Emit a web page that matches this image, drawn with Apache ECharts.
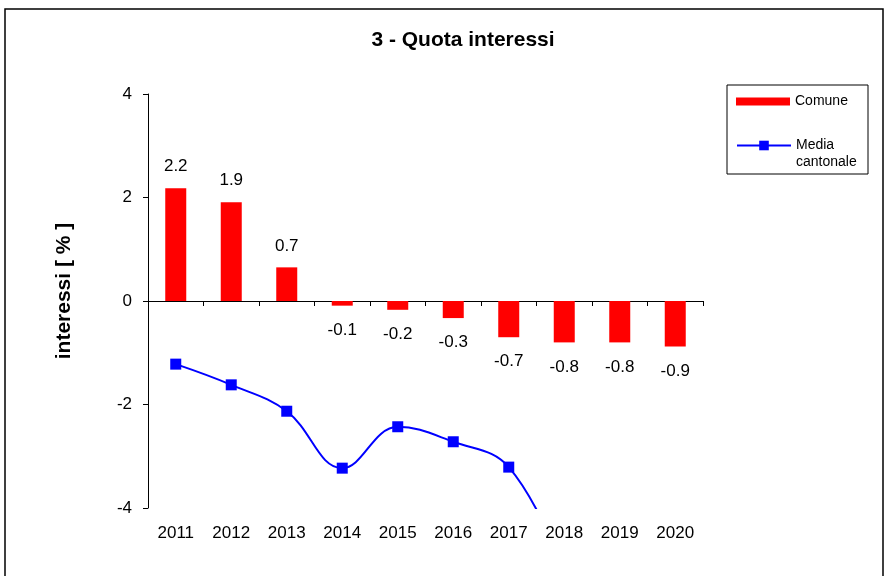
<!DOCTYPE html>
<html>
<head>
<meta charset="utf-8">
<script src="https://cdn.jsdelivr.net/npm/echarts@6/dist/echarts.min.js"></script>
<style>
  html, body { margin: 0; padding: 0; background: #fff; }
  #chart { width: 885px; height: 576px; }
</style>
</head>
<body>
<div id="chart"></div>
<script>
const anni = ["2011", "2012", "2013", "2014", "2015", "2016", "2017", "2018", "2019", "2020"];
const comune = [2.18, 1.91, 0.65, -0.09, -0.17, -0.33, -0.7, -0.8, -0.8, -0.88];
const mediaCantonale = [-1.22, -1.62, -2.13, -3.23, -2.43, -2.72, -3.21, -5.2, null, null];
const yTicks = [-4, -2, 0, 2, 4];

const chart = echarts.init(document.getElementById("chart"));
const font = "'Liberation Sans', Arial, sans-serif";

// etichette sopra/sotto le barre
const comuneData = comune.map(v => ({
  value: v,
  label: { distance: v >= 0 ? 13 : 16 }
}));

const option = {
  animation: false,
  textStyle: { fontFamily: font },
  title: {
    text: "3 - Quota interessi",
    left: 458,
    textAlign: "center",
    top: 25,
    textStyle: { fontFamily: font, fontSize: 21, fontWeight: "bold", color: "#000" }
  },
  graphic: [
    {
      type: "rect",
      shape: { x: 5, y: 9, width: 878, height: 620 },
      style: { fill: "none", stroke: "#000", lineWidth: 1.5 },
      z: -1
    },
    {
      type: "rect",
      shape: { x: 727, y: 85, width: 141, height: 89 },
      style: { fill: "none", stroke: "#000", lineWidth: 1 },
      z: -1
    }
  ],
  legend: [
    {
      orient: "vertical",
      left: 736,
      top: 93,
      padding: 0,
      itemWidth: 54,
      itemHeight: 8,
      textStyle: { fontFamily: font, fontSize: 14, color: "#000", lineHeight: 17 },
      data: [{ name: "Comune", icon: "rect" }]
    },
    {
      orient: "vertical",
      left: 736,
      top: 120,
      padding: 0,
      itemWidth: 54,
      itemHeight: 12,
      formatter: name => "\n" + name,
      textStyle: { fontFamily: font, fontSize: 14, color: "#000", lineHeight: 17 },
      data: [{ name: "Media\ncantonale" }]
    }
  ],
  grid: { left: 148, right: 182, top: 94, bottom: 68 },
  xAxis: [
    {
      type: "category",
      data: anni,
      position: "bottom",
      axisLine: { show: false, onZero: false },
      axisTick: { show: false },
      axisLabel: { fontSize: 17, color: "#000", margin: 17 }
    },
    {
      type: "category",
      data: anni,
      position: "bottom",
      axisLine: { show: true, onZero: true, lineStyle: { color: "#000", width: 1 } },
      axisTick: { show: true, inside: false, length: 5, lineStyle: { color: "#000" } },
      axisLabel: { show: false }
    }
  ],
  yAxis: {
    type: "value",
    min: yTicks[0],
    max: yTicks[yTicks.length - 1],
    interval: 2,
    name: "interessi [ % ]",
    nameLocation: "middle",
    nameGap: 73,
    nameTextStyle: {
      fontFamily: font, fontSize: 21, fontWeight: "bold", color: "#000",
      padding: [0, 0, 0, 20]
    },
    axisLine: { show: true, lineStyle: { color: "#000", width: 1 } },
    axisTick: { show: true, length: 5, lineStyle: { color: "#000" } },
    axisLabel: { fontSize: 17, color: "#000", margin: 16 },
    splitLine: { show: false }
  },
  series: [
    {
      name: "Comune",
      type: "bar",
      data: comuneData,
      barWidth: 21,
      itemStyle: { color: "#ff0000" },
      label: {
        show: true,
        position: "outside",
        fontSize: 17,
        color: "#000",
        formatter: p => p.value.toFixed(1)
      }
    },
    {
      name: "Media\ncantonale",
      type: "line",
      data: mediaCantonale,
      smooth: 0.4,
      clip: true,
      symbol: "rect",
      symbolSize: 11,
      lineStyle: { color: "#0000ff", width: 2 },
      itemStyle: { color: "#0000ff" },
      z: 3
    }
  ]
};

chart.setOption(option);
</script>
</body>
</html>
